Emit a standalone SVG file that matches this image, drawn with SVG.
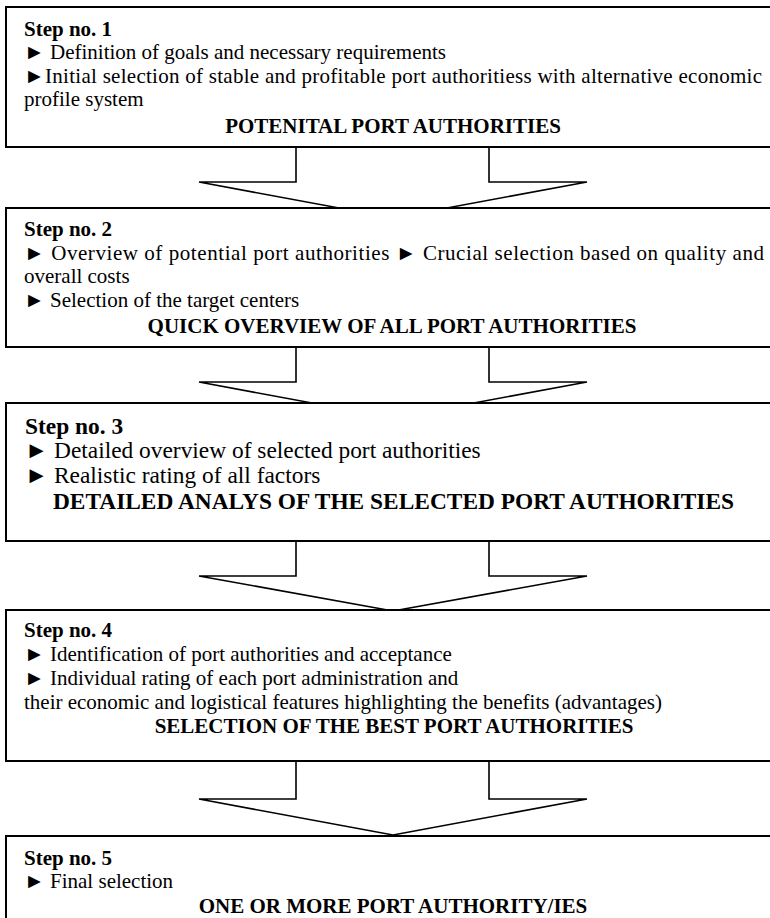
<svg xmlns="http://www.w3.org/2000/svg" width="770" height="918" viewBox="0 0 770 918">
<style>
  .box{fill:#fff;stroke:#000;stroke-width:2}
  .arrow{fill:none;stroke:#000;stroke-width:1.6;stroke-linejoin:miter}
  .t{font-family:"Liberation Serif","Times New Roman",serif;font-size:21px;fill:#000}
  .b{font-weight:bold}
  .c{text-anchor:middle}
  .big{font-size:23.4px}
</style>
<rect width="770" height="918" fill="#fff"/>
<g id="connectors">
  <path class="arrow" d="M296 147 V182 H199 L393 218 L587 182 H489 V147"/>
  <path class="arrow" d="M296 347 V382 H199 L393 418 L587 382 H489 V347"/>
  <path class="arrow" d="M296 541 V576 H199 L393 611 L587 576 H489 V541"/>
  <path class="arrow" d="M296 761 V799 H199 L393 835 L587 799 H489 V761"/>
</g>
<g id="step1">
  <rect class="box" x="6" y="7" width="780" height="140"/>
  <text class="t b" x="24" y="36">Step no. 1</text>
  <text class="t" x="24" y="59">► Definition of goals and necessary requirements</text>
  <text class="t" x="24" y="83" textLength="738" lengthAdjust="spacing">►Initial selection of stable and profitable port authoritiess with alternative economic</text>
  <text class="t" x="24" y="106">profile system</text>
  <text class="t b c" x="393" y="133">POTENITAL PORT AUTHORITIES</text>
</g>
<g id="step2">
  <rect class="box" x="6" y="208" width="780" height="139"/>
  <text class="t b" x="24" y="236">Step no. 2</text>
  <text class="t" x="24" y="260" textLength="740" lengthAdjust="spacing">► Overview of potential port authorities ► Crucial selection based on quality and</text>
  <text class="t" x="24" y="283">overall costs</text>
  <text class="t" x="24" y="307">► Selection of the target centers</text>
  <text class="t b c" x="392" y="333">QUICK OVERVIEW OF ALL PORT AUTHORITIES</text>
</g>
<g id="step3">
  <rect class="box" x="6" y="403" width="780" height="138"/>
  <text class="t big b" x="25" y="434">Step no. 3</text>
  <text class="t big" x="25" y="458">► Detailed overview of selected port authorities</text>
  <text class="t big" x="25" y="483">► Realistic rating of all factors</text>
  <text class="t big b c" x="393.5" y="509">DETAILED ANALYS OF THE SELECTED PORT AUTHORITIES</text>
</g>
<g id="step4">
  <rect class="box" x="6" y="610" width="780" height="151"/>
  <text class="t b" x="24" y="637">Step no. 4</text>
  <text class="t" x="24" y="661">► Identification of port authorities and acceptance</text>
  <text class="t" x="24" y="685">► Individual rating of each port administration and</text>
  <text class="t" x="24" y="709">their economic and logistical features highlighting the benefits (advantages)</text>
  <text class="t b c" x="394" y="733">SELECTION OF THE BEST PORT AUTHORITIES</text>
</g>
<g id="step5">
  <rect class="box" x="6" y="836" width="780" height="100"/>
  <text class="t b" x="24" y="865">Step no. 5</text>
  <text class="t" x="24" y="888">► Final selection</text>
  <text class="t b c" x="393" y="913">ONE OR MORE PORT AUTHORITY/IES</text>
</g>
</svg>
